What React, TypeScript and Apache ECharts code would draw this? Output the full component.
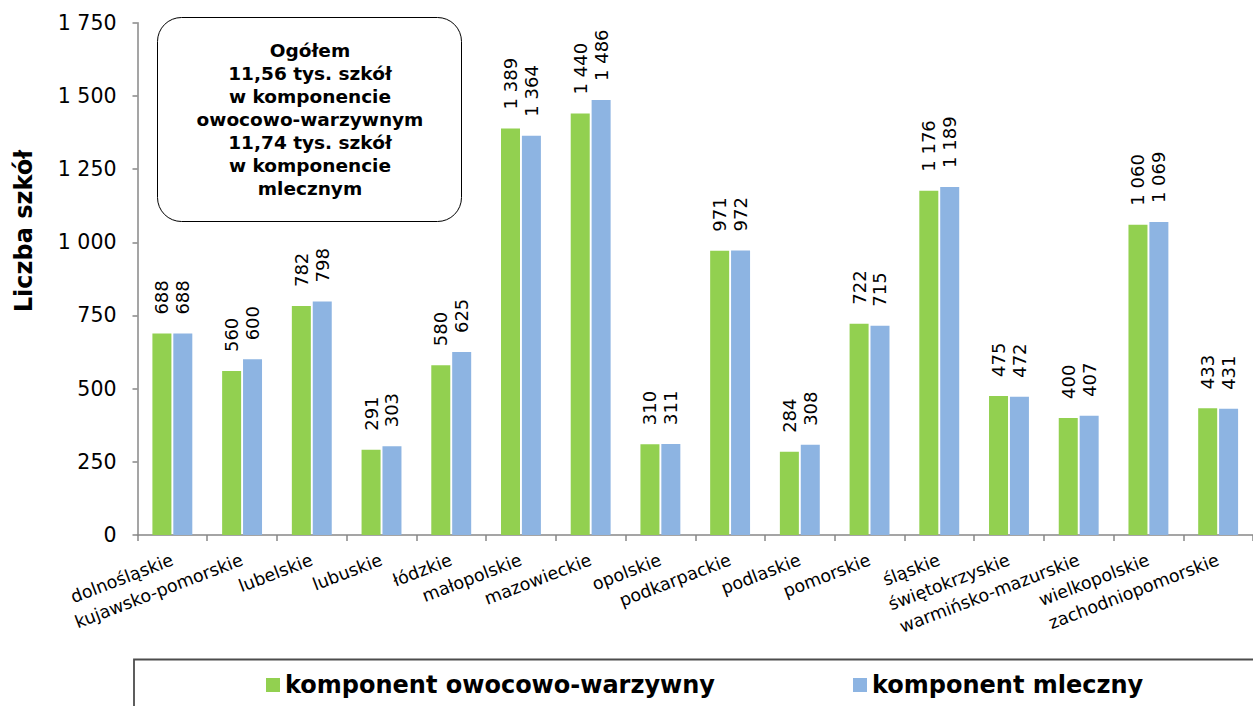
import React, { useEffect, useRef } from "react";
import * as echarts from "echarts";

const categories = [
  "dolnośląskie",
  "kujawsko-pomorskie",
  "lubelskie",
  "lubuskie",
  "łódzkie",
  "małopolskie",
  "mazowieckie",
  "opolskie",
  "podkarpackie",
  "podlaskie",
  "pomorskie",
  "śląskie",
  "świętokrzyskie",
  "warmińsko-mazurskie",
  "wielkopolskie",
  "zachodniopomorskie",
];

const fruitVeg = [688, 560, 782, 291, 580, 1389, 1440, 310, 971, 284, 722, 1176, 475, 400, 1060, 433];
const milk = [688, 600, 798, 303, 625, 1364, 1486, 311, 972, 308, 715, 1189, 472, 407, 1069, 431];

const seriesNames = ["komponent owocowo-warzywny", "komponent mleczny"];
const yTicks = { min: 0, max: 1750, interval: 250 };
const yTitle = "Liczba szkół";
const noteLines = [
  "Ogółem",
  "11,56 tys. szkół",
  "w komponencie",
  "owocowo-warzywnym",
  "11,74 tys. szkół",
  "w komponencie",
  "mlecznym",
];

const FONT = '"DejaVu Sans", Verdana, sans-serif';

function fmt(v: number): string {
  if (v >= 1000) {
    const th = Math.floor(v / 1000);
    const rest = String(v % 1000).padStart(3, "0");
    return `${th} ${rest}`;
  }
  return String(v);
}

export default function App() {
  const ref = useRef<HTMLDivElement>(null);
  useEffect(() => {
    if (!ref.current) return;
    const chart = echarts.init(ref.current, null, { renderer: "svg" });
    const axisGray = "#878787";
    const labelCommon = {
      show: true,
      position: "top",
      rotate: 90,
      align: "left",
      verticalAlign: "middle",
      distance: 19,
      fontSize: 18,
      fontFamily: FONT,
      color: "#000",
      formatter: (p: any) => fmt(p.value),
    };
    const legendText = { fontSize: 24, fontWeight: "bold", fontFamily: FONT, color: "#000", lineHeight: 28 };
    chart.setOption({
      animation: false,
      backgroundColor: "#fff",
      grid: { left: 137.5, right: 0, top: 22.7, bottom: 171, containLabel: false },
      xAxis: {
        type: "category",
        data: categories,
        axisLine: { lineStyle: { color: axisGray, width: 1.5 } },
        axisTick: { show: true, length: 6, lineStyle: { color: axisGray, width: 1.5 } },
        axisLabel: {
          rotate: 21,
          interval: 0,
          margin: 24,
          fontSize: 17.5,
          fontFamily: FONT,
          color: "#000",
        },
      },
      yAxis: {
        type: "value",
        min: yTicks.min,
        max: yTicks.max,
        interval: yTicks.interval,
        splitLine: { show: false },
        axisLine: { show: true, lineStyle: { color: axisGray, width: 1.5 } },
        axisTick: { show: true, length: 5, lineStyle: { color: axisGray, width: 1.5 } },
        axisLabel: {
          margin: 21,
          fontSize: 20.5,
          fontFamily: FONT,
          color: "#000",
          formatter: (v: number) => fmt(v),
        },
      },
      legend: [
        {
          data: [seriesNames[0]],
          left: 266,
          top: 671,
          padding: 0,
          itemWidth: 14,
          itemHeight: 14,
          icon: "rect",
          textStyle: legendText,
        },
        {
          data: [seriesNames[1]],
          left: 853,
          top: 671,
          padding: 0,
          itemWidth: 14,
          itemHeight: 14,
          icon: "rect",
          textStyle: legendText,
        },
      ],
      series: [
        {
          name: seriesNames[0],
          type: "bar",
          data: fruitVeg,
          barWidth: 19,
          barGap: "10%",
          itemStyle: { color: "#92D050" },
          label: labelCommon,
        },
        {
          name: seriesNames[1],
          type: "bar",
          data: milk,
          barWidth: 19,
          barGap: "10%",
          itemStyle: { color: "#8DB4E2" },
          label: labelCommon,
        },
      ],
      graphic: [
        {
          type: "rect",
          shape: { x: 134, y: 659.5, width: 1200, height: 100 },
          style: { fill: "none", stroke: "#4d4d4d", lineWidth: 1.8 },
          silent: true,
        },
        {
          type: "rect",
          shape: { x: 157.5, y: 17.5, width: 304, height: 204, r: 24 },
          style: { fill: "#fff", stroke: "#000", lineWidth: 1 },
          silent: true,
        },
        {
          type: "text",
          x: 310,
          y: 119.5,
          style: {
            text: noteLines.join("\n"),
            fontSize: 18.5,
            fontWeight: "bold",
            fontFamily: FONT,
            lineHeight: 23,
            align: "center",
            verticalAlign: "middle",
            fill: "#000",
          },
          silent: true,
        },
        {
          type: "text",
          x: 23.5,
          y: 231,
          rotation: Math.PI / 2,
          style: {
            text: yTitle,
            fontSize: 24,
            fontWeight: "bold",
            fontFamily: FONT,
            align: "center",
            verticalAlign: "middle",
            fill: "#000",
          },
          silent: true,
        },
      ],
    });
    return () => chart.dispose();
  }, []);
  return (
    <div
      ref={ref}
      style={{ position: "fixed", left: 0, top: 0, width: 1253, height: 706, background: "#fff" }}
    />
  );
}
